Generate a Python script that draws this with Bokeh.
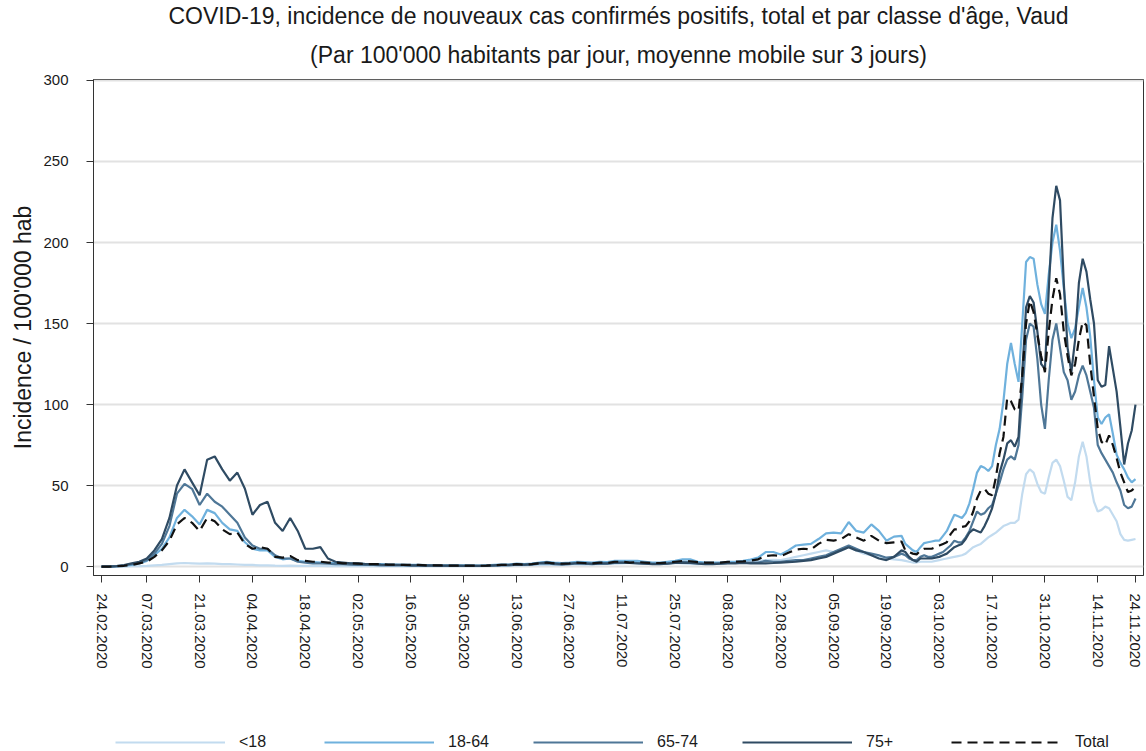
import pandas as pd
from bokeh.plotting import figure
from bokeh.layouts import column
from bokeh.models import (Range1d, FixedTicker, DatetimeTickFormatter, Legend,
                          LegendItem, Title, ColumnDataSource)
from bokeh.embed import file_html
from bokeh.resources import INLINE

# ---------------- data ----------------
# part A: every 2nd day from 24.02.2020 (107 points), part B: daily 24.09 -> 24.11.2020
dates_a = pd.date_range("2020-02-24", periods=107, freq="2D")
dates_b = pd.date_range("2020-09-24", "2020-11-24", freq="D")
dates = dates_a.append(dates_b)

lt18_a = [0, 0, 0, 0, 0.2, 0.3, 0.5,
          0.8, 1.0, 1.5, 2.0, 2.2, 2.0, 1.8, 2.0, 1.8,
          1.5, 1.5, 1.3, 1.0, 1.0, 0.8, 0.8, 0.6, 0.5, 0.6, 0.5,
          0.4, 0.4, 0.4, 0.3, 0.3, 0.3, 0.3, 0.3, 0.3, 0.2, 0.2, 0.2,
          0.2, 0.2, 0.2, 0.2, 0.2, 0.2, 0.2, 0.2, 0.3, 0.3, 0.3, 0.3,
          0.4, 0.5, 0.6, 0.7, 0.8, 0.8, 1.0, 1.2, 1.0, 1.0, 1.2, 1.4, 1.3, 1.2, 1.4,
          1.5, 1.6, 1.8, 2.0, 2.2, 2.0, 1.8, 1.6, 1.6, 1.8, 2.2, 2.0, 1.6, 1.5, 1.6,
          1.8, 2.0, 2.2, 2.4, 2.6,
          3.0, 3.5, 4.0, 4.2, 4.0, 5.0, 6.0, 7.0, 8.0, 9.0, 10.0, 9.0, 10.0, 12.0,
          10.0, 8.0, 7.0, 6.0, 5.0, 4.5, 4.0]
lt18_b = [3.5, 3, 2.5, 2.5, 3, 3, 3, 3, 3.5, 4,
          4.5, 5, 5.5, 6, 6.5, 7, 8, 10, 12, 13,
          14, 16, 18, 19.5, 21, 23, 25, 26, 27, 27,
          29, 45, 57, 60, 58, 51, 46, 45, 55, 64,
          66, 62, 53, 43, 41, 52, 68, 77, 68, 52,
          40, 34, 35, 37, 36, 32, 28, 20, 16.5, 16,
          16.5, 17]

a18_64_a = [0, 0, 0.3, 0.5, 1.0, 2.0, 3.5,
            7, 11, 18, 30, 35, 31, 26, 35, 33,
            27, 23, 22, 15, 11, 10, 10, 6, 4.5, 5, 3.5,
            3.0, 2.8, 2.5, 2.2, 2.2, 2.0, 2.0, 1.8, 1.6, 1.5, 1.5, 1.3,
            1.2, 1.1, 1.0, 1.0, 0.9, 0.8, 0.8, 0.7, 0.7, 0.7, 0.7, 0.6,
            0.8, 1.0, 1.2, 1.3, 1.8, 1.5, 1.8, 2.5, 3.0, 2.5, 2.2, 2.5, 3.0, 2.8, 2.5,
            3.0, 2.8, 3.5, 3.5, 3.5, 3.5, 3.0, 2.5, 2.5, 3.0, 3.5, 4.5, 4.5, 3.0, 2.5,
            2.5, 2.5, 3.0, 3.0, 3.5,
            4.3, 5.5, 9.0, 9.0, 7.5, 10, 13, 13.5, 14, 17, 20.5, 21, 20.5, 27.5,
            22, 21, 26, 22, 16, 18.5, 19]
a18_64_b = [14, 12, 10, 9, 12, 14.5, 15, 15.5, 16, 16,
            19, 22, 27, 32, 31, 30, 33, 39, 48, 58,
            62, 61, 59, 62, 75, 85, 102, 125, 138, 125,
            114, 150, 188, 191, 190, 174, 162, 156, 180, 200,
            211, 195, 172, 150, 141, 147, 160, 172, 160, 142,
            115, 92, 88, 92, 94, 82, 69, 64, 60, 55,
            52, 54]

a65_74_a = [0, 0, 0.3, 0.8, 1.5, 2.5, 4,
            8, 14, 25, 45, 51, 48, 38, 45, 40,
            37, 32, 27, 18, 13, 11, 11, 7, 5, 5, 3,
            2.5, 2.0, 2.0, 1.8, 1.5, 1.5, 1.2, 1.0, 1.0, 1.0, 0.8, 0.8,
            0.8, 0.7, 0.6, 0.6, 0.5, 0.5, 0.5, 0.5, 0.4, 0.4, 0.4, 0.4,
            0.5, 0.6, 0.8, 0.8, 1.2, 1.0, 1.2, 1.8, 2.0, 1.5, 1.2, 1.5, 2.0, 1.8, 1.5,
            1.8, 1.8, 2.2, 2.5, 2.5, 2.2, 2.0, 1.8, 1.8, 2.0, 2.5, 3.0, 2.8, 2.2, 1.8,
            1.8, 2.0, 2.2, 2.2, 2.5,
            2.5, 2.5, 3.5, 3.0, 3.0, 3.5, 4.0, 4.0, 5.0, 6.0, 7.0, 9.0, 11.0, 13.0,
            11.0, 9.0, 8.0, 7.0, 5.5, 6.0, 8.0]
a65_74_b = [7, 5, 4, 4, 6, 7, 6, 6, 7, 8,
            9, 11, 13, 16, 15, 15, 18, 22, 28, 34,
            32, 33, 36, 38, 45, 52, 60, 66, 68, 66,
            75, 105, 140, 150, 148, 128, 100, 85, 115, 140,
            150, 135, 120, 115, 103, 108, 118, 124, 118, 108,
            98, 75, 70, 66, 62, 58, 52, 47, 38, 36,
            37, 42]

a75p_a = [0, 0, 0.3, 1.0, 2.0, 3.0, 5.0,
          10, 17, 30, 50, 60, 52, 44, 66, 68,
          60, 53, 58, 48, 32, 38, 40, 27, 22, 30, 22,
          11, 11, 12, 5, 3, 2.5, 2.0, 2.0, 1.5, 1.5, 1.2, 1.0,
          1.0, 1.0, 0.8, 0.8, 0.8, 0.7, 0.6, 0.6, 0.6, 0.5, 0.5, 0.5,
          0.6, 0.8, 1.0, 1.0, 1.5, 1.2, 1.5, 2.2, 2.5, 2.0, 1.5, 1.8, 2.2, 2.0, 1.8,
          2.0, 2.0, 2.5, 2.5, 2.2, 2.0, 1.8, 1.5, 1.5, 1.8, 2.2, 2.5, 2.2, 1.8, 1.5,
          1.5, 1.8, 2.0, 2.0, 2.2,
          2.0, 2.0, 2.0, 2.2, 2.5, 2.8, 3.0, 3.5, 4.0, 5.0, 6.0, 8.0, 10.0, 12.0,
          10.0, 9.0, 7.0, 5.0, 4.0, 6.0, 10.0]
a75p_b = [9, 6, 4, 3, 5, 5, 5, 5, 5.5, 6,
          7, 8, 10, 12, 13, 14, 17, 21, 23, 22,
          21, 25, 30, 36, 45, 58, 66, 76, 78, 74,
          80, 120, 160, 167, 163, 145, 125, 122, 170, 215,
          235, 226, 175, 135, 120, 140, 175, 190, 182, 165,
          150, 115, 111, 112, 136, 122, 108, 86, 63, 76,
          84, 100]

total_a = [0, 0, 0.2, 0.5, 1.0, 2.0, 3.0,
           6, 10, 16, 26, 30, 27, 22, 30, 28,
           23, 20, 21, 14, 11, 12, 11, 6, 5.5, 6.5, 4,
           3.5, 3.0, 3.0, 2.5, 2.5, 2.0, 2.0, 1.8, 1.5, 1.5, 1.5, 1.2,
           1.2, 1.0, 1.0, 1.0, 0.8, 0.8, 0.7, 0.6, 0.6, 0.6, 0.6, 0.5,
           0.6, 0.8, 1.0, 1.0, 1.5, 1.2, 1.5, 2.0, 2.5, 2.0, 1.8, 2.0, 2.5, 2.2, 2.0,
           2.5, 2.2, 3.0, 3.0, 2.5, 2.8, 2.5, 2.2, 2.2, 2.5, 3.0, 3.5, 3.3, 2.8, 2.5,
           2.5, 2.5, 3.0, 3.0, 3.2,
           3.7, 4.5, 6.5, 7.0, 6.5, 8.5, 10.5, 11, 10.5, 14, 16.5, 16, 17, 20,
           18, 16, 19, 16, 14.5, 15, 15.5]
total_b = [10, 9, 8, 7.5, 10, 11, 11, 11, 12, 13,
           14, 15, 20, 23, 23, 24.5, 25, 28, 34, 42,
           47, 48, 45, 44, 55, 70, 80, 104, 102, 97,
           96, 118, 150, 164, 157, 143, 130, 120, 145, 165,
           178, 168, 145, 130, 118, 125, 140, 151, 149, 125,
           105, 85, 77, 75, 81, 75, 67, 58, 52, 46,
           47, 49]

series_names = ["<18", "18-64", "65-74", "75+", "Total"]
series_values = [lt18_a + lt18_b, a18_64_a + a18_64_b, a65_74_a + a65_74_b,
                 a75p_a + a75p_b, total_a + total_b]

tick_labels = ["24.02.2020", "07.03.2020", "21.03.2020", "04.04.2020", "18.04.2020",
               "02.05.2020", "16.05.2020", "30.05.2020", "13.06.2020", "27.06.2020",
               "11.07.2020", "25.07.2020", "08.08.2020", "22.08.2020", "05.09.2020",
               "19.09.2020", "03.10.2020", "17.10.2020", "31.10.2020", "14.11.2020",
               "24.11.2020"]
y_ticks = [0, 50, 100, 150, 200, 250, 300]

title_1 = "COVID-19, incidence de nouveaux cas confirmés positifs, total et par classe d'âge, Vaud"
title_2 = "(Par 100'000 habitants par jour, moyenne mobile sur 3 jours)"
y_label = "Incidence / 100'000 hab"

# ---------------- styles ----------------
colors = ["#c2dbef", "#6fb1dd", "#4f7797", "#2f4b63", "#111111"]
dashes = ["solid", "solid", "solid", "solid", "10 6"]
FONT = "Liberation Sans"

DAY = 86400000.0
epoch = pd.Timestamp("1970-01-01")
def ms(ts):
    return (pd.Timestamp(ts) - epoch).total_seconds() * 1000.0

x_start = ms(dates[0]) - 2.12 * DAY
x_end = ms(dates[-1]) + 2.12 * DAY

p = figure(width=1146, height=711, x_axis_type="datetime",
           output_backend="svg", toolbar_location=None, title=None,
           x_range=Range1d(x_start, x_end), y_range=Range1d(-5.5, 300.6),
           min_border_left=93, min_border_right=3, min_border_top=78,
           min_border_bottom=136)

p.add_layout(Title(text=title_2, align="center", text_font=FONT,
                   text_font_size="23px", text_font_style="normal",
                   text_color="#1a1a1a", standoff=23), "above")
p.add_layout(Title(text=title_1, align="center", text_font=FONT,
                   text_font_size="23px", text_font_style="normal",
                   text_color="#1a1a1a", standoff=0), "above")

src = ColumnDataSource(dict(date=dates, **{f"s{i}": v for i, v in enumerate(series_values)}))
for i, name in enumerate(series_names):
    p.line("date", f"s{i}", source=src, line_color=colors[i], line_width=2.2,
           line_dash=dashes[i])

# axes
tick_ms = [ms(pd.to_datetime(t, format="%d.%m.%Y")) for t in tick_labels]
p.xaxis.ticker = FixedTicker(ticks=tick_ms)
fmt = "%d.%m.%Y"
p.xaxis.formatter = DatetimeTickFormatter(milliseconds=fmt, seconds=fmt, minsec=fmt,
                                          minutes=fmt, hourmin=fmt, hours=fmt, days=fmt,
                                          months=fmt, years=fmt)
p.xaxis.major_label_orientation = "vertical"
p.xaxis.major_label_text_font = FONT
p.xaxis.major_label_text_font_size = "15px"
p.xaxis.major_label_text_color = "#1a1a1a"
p.xaxis.major_tick_out = 7
p.xaxis.major_tick_in = 0
p.xaxis.minor_tick_line_color = None
p.xaxis.major_label_standoff = 11
p.xaxis.axis_line_color = "#333333"
p.xaxis.major_tick_line_color = "#333333"

p.yaxis.ticker = FixedTicker(ticks=y_ticks)
p.yaxis.major_label_text_font = FONT
p.yaxis.major_label_text_font_size = "15px"
p.yaxis.major_label_text_color = "#1a1a1a"
p.yaxis.major_tick_out = 7
p.yaxis.major_tick_in = 0
p.yaxis.minor_tick_line_color = None
p.yaxis.major_label_standoff = 18
p.yaxis.axis_line_color = "#333333"
p.yaxis.major_tick_line_color = "#333333"
p.yaxis.axis_label = y_label
p.yaxis.axis_label_text_font = FONT
p.yaxis.axis_label_text_font_size = "23px"
p.yaxis.axis_label_text_font_style = "normal"
p.yaxis.axis_label_text_color = "#1a1a1a"
p.yaxis.axis_label_standoff = 4

p.xgrid.grid_line_color = None
p.ygrid.grid_line_color = "#e2e2e2"
p.ygrid.grid_line_width = 2
p.outline_line_color = "#333333"
p.outline_line_width = 1

# ---------------- legend strip ----------------
# same data source; the strip's ranges keep the lines out of view, only the legend shows
leg = figure(width=1146, height=40, output_backend="svg", toolbar_location=None,
             title=None, x_range=Range1d(0, 1), y_range=Range1d(0, 1),
             x_axis_location=None, y_axis_location=None,
             min_border_left=0, min_border_right=0, min_border_top=0,
             min_border_bottom=0)
leg.xgrid.grid_line_color = None
leg.ygrid.grid_line_color = None
leg.outline_line_color = None
items = []
for i, name in enumerate(series_names):
    r = leg.line("date", f"s{i}", source=src, line_color=colors[i], line_width=2.2,
                 line_dash=dashes[i])
    items.append(LegendItem(label=name, renderers=[r]))
legend = Legend(items=items, orientation="horizontal", location=(22, 0), margin=0,
                glyph_width=110, glyph_height=16, label_standoff=14, label_width=45,
                spacing=40, padding=5, border_line_color=None,
                background_fill_alpha=0, label_text_font=FONT,
                label_text_font_size="16px", label_text_color="#1a1a1a")
leg.add_layout(legend, "center")

layout = column(p, leg, spacing=0)
open("out.html", "w").write(file_html(layout, INLINE))
